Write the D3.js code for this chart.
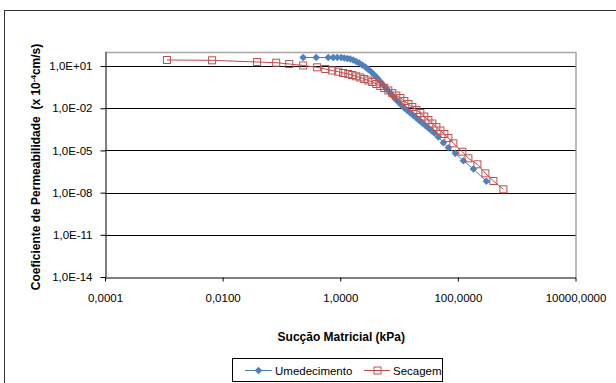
<!DOCTYPE html>
<html>
<head>
<meta charset="utf-8">
<script src="https://cdn.jsdelivr.net/npm/d3@7"></script>
<style>
    body { margin: 0; background: #fff; }
    svg { font-family: "Liberation Sans", Arial, sans-serif; }
</style>
</head>
<body>
<div id="chart"></div>
<script>
// Umedecimento (succao kPa, k x 10^-4 cm/s)
var umedSuccao = [0.234, 0.39, 0.625, 0.76, 0.89, 1.04, 1.17, 1.32, 1.48, 1.66, 1.87, 2.10, 2.37, 2.67,
    3.00, 3.37, 3.79, 4.27, 4.80, 5.40, 6.07, 6.82, 7.67, 8.63, 9.71, 10.9, 12.3, 13.8, 15.5, 17.5,
    19.7, 22.1, 24.9, 28.0, 31.5, 35.4, 39.8, 46.6, 56.6, 68.9, 90.6, 124, 184, 305]
var umedK = [40.6, 40.6, 40.6, 40.6, 40.6, 40.6, 37.4, 34.5, 31.8, 27.0, 21.1, 16.5, 11.9, 8.57,
    5.69, 3.78, 2.31, 1.42, 0.80, 0.45, 0.254, 0.143, 0.0805, 0.0454, 0.0278, 0.0170, 0.0104, 0.0069, 0.00458, 0.00305,
    0.00202, 0.00134, 0.00089, 0.00059, 0.00039, 0.00026, 0.000173, 9.0e-5, 3.54e-5, 1.56e-5, 6.2e-6, 1.86e-6, 4.8e-7, 6.4e-8]

// Secagem
var secSuccao = [0.00113, 0.00662, 0.0386, 0.0815, 0.136, 0.234, 0.405, 0.556, 0.731, 0.925, 1.12, 1.37, 1.60, 1.87,
    2.19, 2.56, 3.00, 3.51, 4.10, 4.80, 5.61, 6.56, 7.67, 8.97, 10.5, 12.3, 14.4, 16.8, 19.7, 23.0,
    26.9, 31.5, 36.8, 43.1, 50.4, 58.9, 68.9, 83.8, 119, 151, 215, 294, 402, 594]
var secK = [27.0, 25.7, 19.4, 17.3, 14.0, 11.0, 8.17, 6.18, 4.83, 3.97, 3.21, 2.72, 2.31, 1.87,
    1.54, 1.20, 0.94, 0.735, 0.53, 0.382, 0.275, 0.183, 0.121, 0.0805, 0.0535, 0.0327, 0.0200, 0.01225, 0.0075, 0.00458,
    0.00259, 0.00146, 0.00082, 0.00046, 0.00026, 0.000147, 7.6e-5, 3.2e-5, 8.1e-6, 2.75e-6, 1.03e-6, 2.36e-7, 6.7e-8, 1.72e-8]

var xTicks = [1e-4, 1e-2, 1, 1e2, 1e4]
var xTickLabels = ['0,0001', '0,0100', '1,0000', '100,0000', '10000,0000']
var yTicks = [1e-14, 1e-11, 1e-8, 1e-5, 1e-2, 1e1]
var yTickLabels = ['1,0E-14', '1,0E-11', '1,0E-08', '1,0E-05', '1,0E-02', '1,0E+01']

var seriesNames = ['Umedecimento', 'Secagem']

var _width = 616
var _height = 383
var _left = 105, _right = 575.5, _top = 52, _bottom = 277

var blue = '#4a7ebb'
var red = '#be4b48'

var svg = d3.select('#chart').append('svg')
    .attr('width', _width)
    .attr('height', _height)

// moldura do grafico
svg.append('rect')
    .attr('x', 4.5).attr('y', 10.5)
    .attr('width', 700).attr('height', 500)
    .attr('fill', '#fff')
    .attr('stroke', '#333')

var x = d3.scaleLog().domain([1e-4, 1e4]).range([_left, _right])
var y = d3.scaleLog().domain([1e-14, 1e2]).range([_bottom, _top])

// borda cinza da area de plotagem
svg.append('path')
    .attr('d', 'M' + _left + ',' + (_top + 0.5) + 'H' + (_right + 0.5) + 'V' + _bottom)
    .attr('fill', 'none')
    .attr('stroke', '#a6a6a6')
    .attr('stroke-width', 1.5)

// linhas de grade
svg.append('g').selectAll('line.grid')
    .data(yTicks.slice(1))
    .enter()
    .append('line')
    .attr('class', 'grid')
    .attr('x1', _left).attr('x2', _right)
    .attr('y1', d => Math.round(y(d)) + 0.5)
    .attr('y2', d => Math.round(y(d)) + 0.5)
    .attr('stroke', '#000')

var yAxis = d3.axisLeft(y)
    .tickValues(yTicks)
    .tickSize(5)
    .tickSizeOuter(0)
    .tickPadding(8)
    .tickFormat((d, i) => yTickLabels[i])

var yG = svg.append('g')
    .attr('transform', 'translate(' + (_left + 0.5) + ',0)')
    .call(yAxis)
yG.select('.domain').attr('stroke', '#000')
yG.selectAll('text').attr('font-size', '11.5px').attr('fill', '#000').attr('font-family', null)

var xAxis = d3.axisBottom(x)
    .tickValues(xTicks)
    .tickSize(4)
    .tickSizeOuter(0)
    .tickPadding(12)
    .tickFormat((d, i) => xTickLabels[i])

var xG = svg.append('g')
    .attr('transform', 'translate(0,' + (_bottom + 0.5) + ')')
    .call(xAxis)
xG.select('.domain').attr('stroke', '#000')
xG.selectAll('text').attr('font-size', '11.5px').attr('fill', '#000').attr('font-family', null)

// titulos dos eixos
svg.append('text')
    .attr('x', (_left + _right) / 2 + 1)
    .attr('y', 341)
    .attr('text-anchor', 'middle')
    .attr('font-size', '12px')
    .attr('font-weight', 'bold')
    .text('Sucção Matricial (kPa)')

var yTitle = svg.append('text')
    .attr('transform', 'translate(40,167) rotate(-90)')
    .attr('text-anchor', 'middle')
    .attr('font-size', '12px')
    .attr('font-weight', 'bold')
yTitle.append('tspan').text('Coeficiente de Permeabilidade \u00a0(x 10')
yTitle.append('tspan').attr('dy', -4).attr('font-size', '8px').text('-4')
yTitle.append('tspan').attr('dy', 4).text('cm/s)')

var line = d3.line()
    .x(d => x(d[0]))
    .y(d => y(d[1]))

var diamond = 'M0,-3.8L3.8,0L0,3.8L-3.8,0Z'

function renderUmed() {
    var pts = umedSuccao.map((s, i) => [s, umedK[i]])
    var g = svg.append('g')
    g.append('path')
        .attr('d', line(pts))
        .attr('fill', 'none')
        .attr('stroke', blue)
        .attr('stroke-width', 1)
    g.selectAll('path.pt')
        .data(pts)
        .enter()
        .append('path')
        .attr('class', 'pt')
        .attr('d', diamond)
        .attr('transform', d => 'translate(' + x(d[0]) + ',' + y(d[1]) + ')')
        .attr('fill', '#4f81bd')
}

function renderSec() {
    var pts = secSuccao.map((s, i) => [s, secK[i]])
    var g = svg.append('g')
    g.append('path')
        .attr('d', line(pts))
        .attr('fill', 'none')
        .attr('stroke', red)
        .attr('stroke-width', 1)
    g.selectAll('rect.pt')
        .data(pts)
        .enter()
        .append('rect')
        .attr('class', 'pt')
        .attr('x', d => x(d[0]) - 3.5)
        .attr('y', d => y(d[1]) - 3.5)
        .attr('width', 7).attr('height', 7)
        .attr('fill', 'none')
        .attr('stroke', '#c0504d')
        .attr('stroke-width', 1)
}

renderUmed()
renderSec()

// legenda
var legend = svg.append('g')
legend.append('rect')
    .attr('x', 232.5).attr('y', 358.5)
    .attr('width', 210).attr('height', 23)
    .attr('fill', '#fff')
    .attr('stroke', '#000')

var lg = legend.append('g')
lg.append('line').attr('x1', 245).attr('x2', 272).attr('y1', 370.5).attr('y2', 370.5).attr('stroke', blue)
lg.append('path').attr('d', diamond).attr('transform', 'translate(258.5,370.5)').attr('fill', '#4f81bd')
lg.append('text').attr('x', 275).attr('y', 374.5).attr('font-size', '11.5px').text(seriesNames[0])

lg.append('line').attr('x1', 364).attr('x2', 390).attr('y1', 370.5).attr('y2', 370.5).attr('stroke', red)
lg.append('rect').attr('x', 374).attr('y', 367).attr('width', 7).attr('height', 7)
    .attr('fill', 'none').attr('stroke', '#c0504d')
lg.append('text').attr('x', 393).attr('y', 374.5).attr('font-size', '11.5px').text(seriesNames[1])
</script>
</body>
</html>
